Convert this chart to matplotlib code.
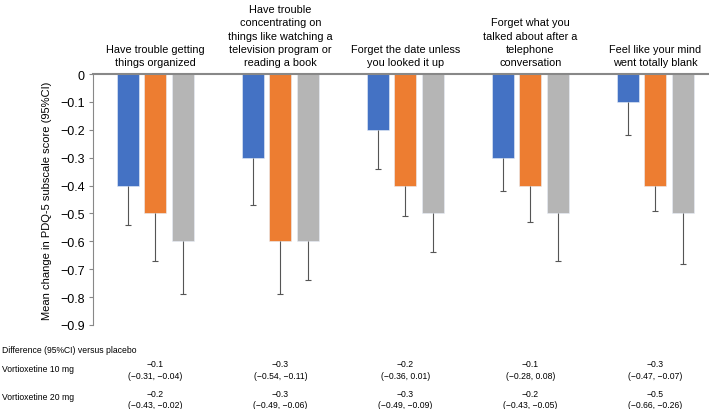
import matplotlib
matplotlib.use("Agg")
import matplotlib.pyplot as plt
import matplotlib.transforms as mtransforms
import numpy as np

plt.rcParams['font.family'] = ['Liberation Sans', 'DejaVu Sans']

categories = [
    "Have trouble getting\nthings organized",
    "Have trouble\nconcentrating on\nthings like watching a\ntelevision program or\nreading a book",
    "Forget the date unless\nyou looked it up",
    "Forget what you\ntalked about after a\ntelephone\nconversation",
    "Feel like your mind\nwent totally blank",
]
series_names = ["Vortioxetine 10 mg", "Vortioxetine 20 mg", "Placebo"]
vort10 = [-0.4, -0.3, -0.2, -0.3, -0.1]
vort20 = [-0.5, -0.6, -0.4, -0.4, -0.4]
placebo = [-0.6, -0.6, -0.5, -0.5, -0.5]
vort10_low = [-0.54, -0.47, -0.34, -0.42, -0.22]
vort20_low = [-0.67, -0.79, -0.51, -0.53, -0.49]
placebo_low = [-0.79, -0.74, -0.64, -0.67, -0.68]

diff10 = ["\u22120.1\n(\u22120.31, \u22120.04)", "\u22120.3\n(\u22120.54, \u22120.11)",
          "\u22120.2\n(\u22120.36, 0.01)", "\u22120.1\n(\u22120.28, 0.08)",
          "\u22120.3\n(\u22120.47, \u22120.07)"]
diff20 = ["\u22120.2\n(\u22120.43, \u22120.02)", "\u22120.3\n(\u22120.49, \u22120.06)",
          "\u22120.3\n(\u22120.49, \u22120.09)", "\u22120.2\n(\u22120.43, \u22120.05)",
          "\u22120.5\n(\u22120.66, \u22120.26)"]

colors = ["#4472C4", "#ED7D31", "#B5B5B5"]

fig = plt.figure(figsize=(7.09, 4.10), dpi=100)
ax = fig.add_axes([93/709, 1 - 326/410, 1 - 93/709, (326 - 75)/410])

x = np.arange(len(categories))
width = 0.176
step = 0.22
for i, (vals, lows) in enumerate([(vort10, vort10_low), (vort20, vort20_low), (placebo, placebo_low)]):
    pos = x + (i - 1) * step
    vals = np.array(vals)
    lows = np.array(lows)
    ax.bar(pos, vals, width=width, color=colors[i], edgecolor='#e8eef8', linewidth=0.4, zorder=2)
    ax.vlines(pos, lows, vals, colors='#555555', linewidth=0.8, zorder=3)
    ax.plot(pos, lows, linestyle='none', marker='_', markersize=4, markeredgewidth=0.8,
            color='#555555', zorder=3)

ax.set_xlim(-0.5, 4.43)
ax.set_ylim(-0.9, 0)
ax.set_yticks(np.arange(0, -0.91, -0.1))
ax.set_yticklabels(["0"] + ["\u2212%.1f" % (k / 10) for k in range(1, 10)], fontsize=9)
ax.set_xticks([])
for s in ['right', 'bottom']:
    ax.spines[s].set_visible(False)
ax.spines['top'].set_color('#888888')
ax.spines['top'].set_linewidth(1.5)
ax.spines['left'].set_color('#888888')
ax.tick_params(axis='y', length=3, color='#888888', pad=3)
ax.set_ylabel("Mean change in PDQ-5 subscale score (95%CI)", fontsize=8, labelpad=6)

for xi, cat in zip(x, categories):
    ax.text(xi, 1.028, cat, transform=mtransforms.blended_transform_factory(ax.transData, ax.transAxes),
            ha='center', va='bottom', fontsize=7.8, linespacing=1.4)

trans = mtransforms.blended_transform_factory(ax.transData, fig.transFigure)
fig.text(0.003, 1 - 351/410, "Difference (95%CI) versus placebo", fontsize=6.2, va='center')
fig.text(0.003, 1 - 370/410, "Vortioxetine 10 mg", fontsize=6.2, va='center')
fig.text(0.003, 1 - 398/410, "Vortioxetine 20 mg", fontsize=6.2, va='center')
for xi, d10, d20 in zip(x, diff10, diff20):
    ax.text(xi, 1 - 370.5/410, d10, transform=trans, ha='center', va='center', fontsize=6.2, linespacing=1.4)
    ax.text(xi, 1 - 400/410, d20, transform=trans, ha='center', va='center', fontsize=6.2, linespacing=1.4)

fig.savefig("out.png", dpi=100)
